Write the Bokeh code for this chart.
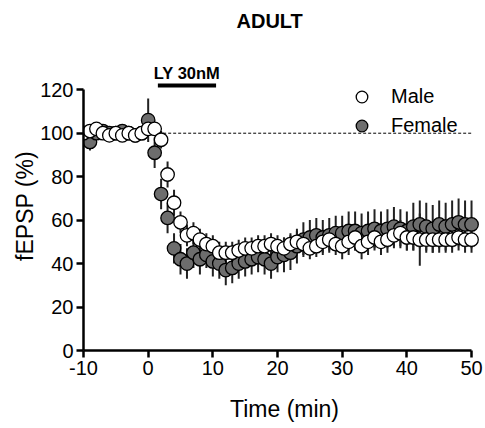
from bokeh.plotting import figure
from bokeh.models import Range1d, Legend, LegendItem, Label, Arrow, ColumnDataSource, FixedTicker, Title
from bokeh.embed import file_html
from bokeh.resources import INLINE

# ---- data ----
time_min = [-10, -9, -8, -7, -6, -5, -4, -3, -2, -1,
            0, 1, 2, 3, 4, 5, 6, 7, 8, 9,
            10, 11, 12, 13, 14, 15, 16, 17, 18, 19,
            20, 21, 22, 23, 24, 25, 26, 27, 28, 29,
            30, 31, 32, 33, 34, 35, 36, 37, 38, 39,
            40, 41, 42, 43, 44, 45, 46, 47, 48, 49, 50]
male = [100, 101, 102, 100, 99, 100, 99, 100, 99, 100,
        102, 102, 97, 81, 68, 59, 53, 54, 51, 49,
        48, 45, 45, 45, 46, 47, 47, 48, 48, 49,
        48, 47, 49, 50, 49, 47, 48, 50, 51, 49,
        48, 50, 52, 48, 50, 52, 50, 51, 53, 54,
        52, 52, 51, 51, 51, 51, 51, 51, 52, 51, 51]
male_sem = [2, 2, 2, 2, 2, 2, 2, 2, 2, 2,
            3, 3, 4, 6, 6, 5, 5, 5, 5, 5,
            5, 5, 5, 5, 5, 5, 5, 5, 5, 5,
            5, 5, 5, 5, 5, 5, 5, 5, 5, 5,
            6, 6, 6, 6, 6, 6, 6, 6, 6, 6,
            6, 6, 12, 6, 6, 6, 6, 6, 6, 6, 6]
female = [100, 96, 100, 101, 100, 100, 101, 100, 99, 100,
          106, 91, 72, 61, 47, 42, 40, 45, 42, 44,
          41, 40, 37, 38, 40, 41, 42, 43, 42, 40,
          43, 44, 45, 48, 51, 52, 53, 52, 53, 54,
          54, 55, 55, 54, 55, 56, 55, 56, 57, 56,
          55, 57, 58, 57, 56, 58, 57, 58, 59, 58, 58]
female_sem = [3, 4, 3, 3, 3, 3, 3, 3, 3, 3,
              10, 7, 7, 7, 7, 7, 7, 7, 7, 6,
              7, 7, 7, 7, 7, 7, 7, 7, 7, 7,
              7, 8, 8, 8, 8, 8, 8, 8, 8, 8,
              8, 9, 9, 9, 9, 9, 9, 9, 9, 9,
              9, 11, 11, 11, 11, 11, 11, 11, 11, 11, 11]
baseline = 100
ly_start, ly_end = 1.5, 10.5
ly_label = "LY 30nM"
title_text = "ADULT"
x_ticks = [-10, 0, 10, 20, 30, 40, 50]
y_ticks = [0, 20, 40, 60, 80, 100, 120]

FONT = "Liberation Sans"

def src(vals, sem):
    return ColumnDataSource(dict(
        x=time_min, y=vals,
        lo=[v - s for v, s in zip(vals, sem)],
        hi=[v + s for v, s in zip(vals, sem)]))

fsrc = src(female, female_sem)
msrc = src(male, male_sem)

p = figure(width=485, height=428, output_backend="svg", toolbar_location=None,
           x_range=Range1d(-10, 52.16), y_range=Range1d(0, 133),
           min_border_left=83, min_border_right=0, min_border_top=61, min_border_bottom=78)
p.outline_line_color = None
p.grid.visible = False
p.background_fill_color = "white"

# spacer between frame and title (closest to the frame)
spacer = Title(text=" ", text_font=FONT, text_font_size="1px", standoff=27)
p.add_layout(spacer, "above")
t = Title(text=title_text, align="left", offset=153, standoff=0,
          text_font=FONT, text_font_size="20px", text_font_style="bold", text_color="black")
p.add_layout(t, "above")

for ax in (p.xaxis[0], p.yaxis[0]):
    ax.axis_line_width = 2.5
    ax.axis_line_color = "black"
    ax.major_tick_line_width = 2.5
    ax.major_tick_line_color = "black"
    ax.major_tick_out = 7
    ax.major_tick_in = 0
    ax.minor_tick_line_color = None
    ax.major_label_text_font = FONT
    ax.major_label_text_font_size = "20px"
    ax.major_label_text_color = "black"
    ax.axis_label_text_font = FONT
    ax.axis_label_text_font_size = "23px"
    ax.axis_label_text_font_style = "normal"
    ax.axis_label_text_color = "black"
    ax.major_label_standoff = 3

p.xaxis.ticker = FixedTicker(ticks=x_ticks)
p.yaxis.ticker = FixedTicker(ticks=y_ticks)
p.xaxis.major_label_overrides = {-10: "-10"}
p.xaxis.bounds = (-10, 50)
p.yaxis.bounds = (0, 120)
p.xaxis.axis_label = "Time (min)"
p.yaxis.axis_label = "fEPSP (%)"
p.xaxis.axis_label_standoff = 18
p.yaxis.axis_label_standoff = -1

# baseline dashed line
p.line(x=[0, 50], y=[baseline, baseline], line_color="black", line_width=1, line_dash="3 2")

# error bars
p.segment(x0="x", y0="lo", x1="x", y1="hi", source=fsrc, line_color="#222222", line_width=2)
p.segment(x0="x", y0="lo", x1="x", y1="hi", source=msrc, line_color="#222222", line_width=2)

rf = p.scatter(x="x", y="y", source=fsrc, size=13.5, marker="circle",
               fill_color="#6d6d6d", line_color="black", line_width=1.3)
rm = p.scatter(x="x", y="y", source=msrc, size=13.5, marker="circle",
               fill_color="white", line_color="black", line_width=1.3)

legend = Legend(items=[LegendItem(label="Male", renderers=[rm]),
                       LegendItem(label="Female", renderers=[rf])],
                location=(262, 210), orientation="vertical",
                glyph_width=33, glyph_height=29, spacing=0, padding=0, margin=0,
                label_standoff=13, label_text_font=FONT, label_text_font_size="20px",
                label_text_color="black", border_line_color=None,
                background_fill_alpha=0)
p.add_layout(legend)

# LY application bar
p.add_layout(Arrow(x_start=ly_start, y_start=122.0, x_end=ly_end, y_end=122.0,
                   start=None, end=None, line_width=4, line_color="black"))
p.add_layout(Label(x=(ly_start + ly_end) / 2, y=127.8, text=ly_label,
                   text_align="center", text_baseline="middle",
                   text_font=FONT, text_font_size="16.5px", text_font_style="bold",
                   text_color="black"))

open("out.html", "w").write(file_html(p, INLINE))
